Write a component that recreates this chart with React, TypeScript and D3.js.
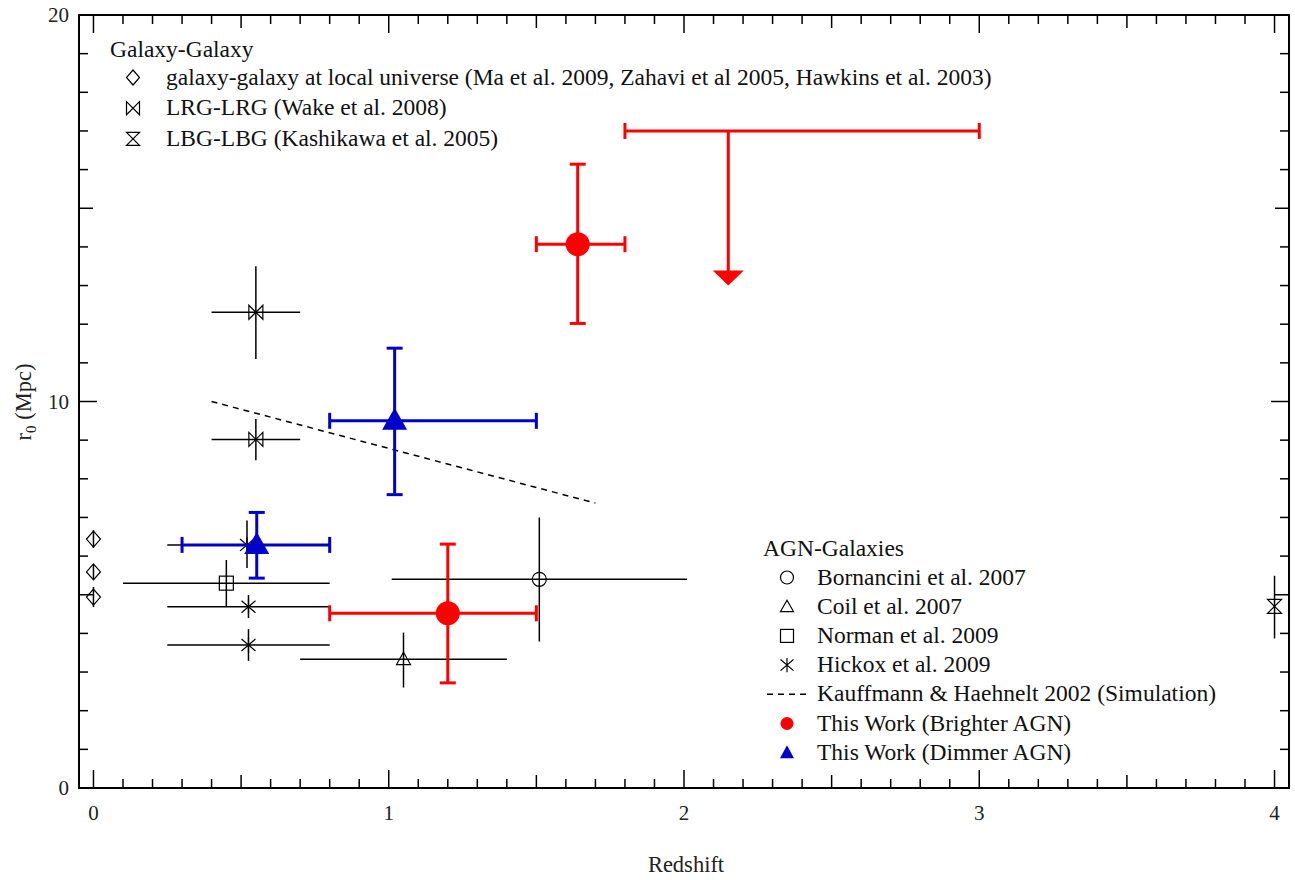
import React from 'react';
import * as d3 from 'd3';

// ---- data (redshift z, r0 in Mpc) ----
const galaxyLocal = [
    { z: 0, r: 6.44, rLo: 6.21, rHi: 6.67 },
    { z: 0, r: 5.59, rLo: 5.41, rHi: 5.77 },
    { z: 0, r: 4.94, rLo: 4.68, rHi: 5.2 },
];
const lrgLrg = [
    { z: 0.55, r: 12.31, zLo: 0.4, zHi: 0.7, rLo: 11.1, rHi: 13.5 },
    { z: 0.55, r: 9.02, zLo: 0.4, zHi: 0.7, rLo: 8.48, rHi: 9.55 },
];
const lbgLbg = [{ z: 4.0, r: 4.7, rLo: 3.87, rHi: 5.49 }];
const bornancini = [{ z: 1.51, r: 5.4, zLo: 1.01, zHi: 2.01, rLo: 3.79, rHi: 7.0 }];
const coil = [{ z: 1.05, r: 3.33, zLo: 0.7, zHi: 1.4, rLo: 2.6, rHi: 4.02 }];
const norman = [{ z: 0.45, r: 5.3, zLo: 0.1, zHi: 0.8, rLo: 4.69, rHi: 5.9 }];
const hickox = [
    { z: 0.525, r: 4.69, zLo: 0.25, zHi: 0.8, rLo: 4.4, rHi: 4.99 },
    { z: 0.525, r: 3.7, zLo: 0.25, zHi: 0.8, rLo: 3.29, rHi: 4.11 },
    { z: 0.52, r: 6.29, zLo: 0.25, zHi: 0.8, rLo: 5.69, rHi: 6.92 },
];
const kauffmann = [
    { z: 0.4, r: 10.0 },
    { z: 1.7, r: 7.37 },
];
const brighter = [
    { z: 1.2, r: 4.52, zLo: 0.8, zHi: 1.5, rLo: 2.72, rHi: 6.31 },
    { z: 1.64, r: 14.07, zLo: 1.5, zHi: 1.8, rLo: 12.02, rHi: 16.14 },
];
const brighterLimit = [{ z: 2.15, r: 17.0, zLo: 1.8, zHi: 3.0, rTo: 13.0 }];
const dimmer = [
    { z: 1.02, r: 9.5, zLo: 0.8, zHi: 1.5, rLo: 7.59, rHi: 11.38 },
    { z: 0.553, r: 6.29, zLo: 0.3, zHi: 0.8, rLo: 5.43, rHi: 7.13 },
];

const xTickLabels = ['0', '1', '2', '3', '4'];
const yTickLabels = ['0', '10', '20'];

const galaxyLegend = [
    { shape: 'diamond', label: 'galaxy-galaxy at local universe (Ma et al. 2009, Zahavi et al 2005, Hawkins et al. 2003)' },
    { shape: 'bowtie', label: 'LRG-LRG (Wake et al. 2008)' },
    { shape: 'hourglass', label: 'LBG-LBG (Kashikawa et al. 2005)' },
];
const agnLegend = [
    { shape: 'circle', label: 'Bornancini et al. 2007' },
    { shape: 'triangle', label: 'Coil et al. 2007' },
    { shape: 'square', label: 'Norman et al. 2009' },
    { shape: 'asterisk', label: 'Hickox et al. 2009' },
    { shape: 'dash', label: 'Kauffmann & Haehnelt 2002 (Simulation)' },
    { shape: 'redDot', label: 'This Work (Brighter AGN)' },
    { shape: 'blueTri', label: 'This Work (Dimmer AGN)' },
];

const W = 1295;
const H = 880;
const left = 79;
const right = 1289;
const top = 15;
const bottom = 788;
const FONT = "'Liberation Serif', 'DejaVu Serif', serif";
const RED = '#ff0000';
const BLUE = '#0000cc';

const x = d3.scaleLinear().domain([-0.049, 4.049]).range([left, right]);
const y = d3.scaleLinear().domain([0, 20]).range([bottom, top]);

// open / filled marker drawn at (cx, cy)
function Marker({ shape, cx, cy, s = 7, legend = false }) {
    const st = { fill: 'none', stroke: '#000', strokeWidth: 1.2 };
    switch (shape) {
        case 'diamond':
            return <path d={`M${cx},${cy - s - 1}L${cx + s},${cy}L${cx},${cy + s + 1}L${cx - s},${cy}Z`} {...st} />;
        case 'bowtie':
            return <path d={`M${cx - s},${cy - s}L${cx - s},${cy + s}L${cx + s},${cy - s}L${cx + s},${cy + s}Z`} {...st} />;
        case 'hourglass':
            return <path d={`M${cx - s},${cy - s}L${cx + s},${cy - s}L${cx - s},${cy + s}L${cx + s},${cy + s}Z`} {...st} />;
        case 'circle':
            return <circle cx={cx} cy={cy} r={s} {...st} />;
        case 'square':
            return <rect x={cx - s} y={cy - s} width={2 * s} height={2 * s} {...st} />;
        case 'triangle':
            return <path d={`M${cx},${cy - s}L${cx + s},${cy + s * 0.75}L${cx - s},${cy + s * 0.75}Z`} {...st} />;
        case 'asterisk': {
            const dx = s;
            return (
                <path
                    d={`M${cx},${cy - s * 1.1}L${cx},${cy + s * 1.1}M${cx - dx},${cy - s * 0.85}L${cx + dx},${cy + s * 0.85}M${cx - dx},${cy + s * 0.85}L${cx + dx},${cy - s * 0.85}`}
                    {...st}
                />
            );
        }
        case 'dash':
            return <line x1={cx - 20} x2={cx + 20} y1={cy} y2={cy} stroke="#000" strokeWidth={1.5} strokeDasharray="6,5" />;
        case 'redDot':
            return <circle cx={cx} cy={cy} r={legend ? 6.5 : 12} fill={RED} />;
        case 'blueTri': {
            const hw = legend ? 7 : 12.5;
            const up = legend ? 7.5 : 13;
            const dn = legend ? 5.5 : 9;
            return <path d={`M${cx},${cy - up}L${cx + hw},${cy + dn}L${cx - hw},${cy + dn}Z`} fill={BLUE} />;
        }
        default:
            return null;
    }
}

// thin black error bars, no caps
function BlackPoints({ data, shape }) {
    return (
        <g>
            {data.map((d, i) => (
                <g key={i}>
                    {d.zLo !== undefined && (
                        <line x1={x(d.zLo)} x2={x(d.zHi)} y1={y(d.r)} y2={y(d.r)} stroke="#000" strokeWidth={1.5} />
                    )}
                    <line x1={x(d.z)} x2={x(d.z)} y1={y(d.rLo)} y2={y(d.rHi)} stroke="#000" strokeWidth={1.5} />
                    <Marker shape={shape} cx={x(d.z)} cy={y(d.r)} />
                </g>
            ))}
        </g>
    );
}

// thick coloured error bars with caps
function ColorPoints({ data, color, shape }) {
    const c = 8;
    return (
        <g stroke={color} strokeWidth={3}>
            {data.map((d, i) => {
                const cx = x(d.z);
                const cy = y(d.r);
                return (
                    <g key={i}>
                        <line x1={x(d.zLo)} x2={x(d.zHi)} y1={cy} y2={cy} />
                        <line x1={x(d.zLo)} x2={x(d.zLo)} y1={cy - c} y2={cy + c} />
                        <line x1={x(d.zHi)} x2={x(d.zHi)} y1={cy - c} y2={cy + c} />
                        <line x1={cx} x2={cx} y1={y(d.rLo)} y2={y(d.rHi)} />
                        <line x1={cx - c} x2={cx + c} y1={y(d.rLo)} y2={y(d.rLo)} />
                        <line x1={cx - c} x2={cx + c} y1={y(d.rHi)} y2={y(d.rHi)} />
                        <g stroke="none">
                            <Marker shape={shape} cx={cx} cy={cy} />
                        </g>
                    </g>
                );
            })}
        </g>
    );
}

export default function App() {
    const xTicks = d3.range(0, 41).map(i => ({ v: i / 10, len: i % 10 === 0 ? 18 : i % 5 === 0 ? 13 : 9 }));
    const yTicks = d3.range(0, 21).map(i => ({ v: i, len: i % 10 === 0 ? 18 : i % 5 === 0 ? 14 : 9 }));
    const dashLine = d3.line().x(d => x(d.z)).y(d => y(d.r));
    const txt = { fontFamily: FONT };

    return (
        <svg
            width={W}
            height={H}
            style={{ position: 'absolute', left: 0, top: 0, background: '#fff', fontFamily: FONT }}
        >
            {/* ticks, pointing inward on all four sides */}
            <g stroke="#000" strokeWidth={1.5}>
                {xTicks.map((t, i) => (
                    <g key={'x' + i}>
                        <line x1={x(t.v)} x2={x(t.v)} y1={bottom} y2={bottom - t.len} />
                        <line x1={x(t.v)} x2={x(t.v)} y1={top} y2={top + t.len} />
                    </g>
                ))}
                {yTicks.map((t, i) => (
                    <g key={'y' + i}>
                        <line x1={left} x2={left + t.len} y1={y(t.v)} y2={y(t.v)} />
                        <line x1={right} x2={right - t.len} y1={y(t.v)} y2={y(t.v)} />
                    </g>
                ))}
            </g>
            <rect x={left} y={top} width={right - left} height={bottom - top} fill="none" stroke="#000" strokeWidth={2} />

            {/* tick labels */}
            <g style={{ ...txt, fontSize: 21 }} fill="#222">
                {xTickLabels.map(l => (
                    <text key={l} x={x(+l)} y={820} textAnchor="middle">
                        {l}
                    </text>
                ))}
                {yTickLabels.map(l => (
                    <text key={l} x={69} y={y(+l) + 7} textAnchor="end">
                        {l}
                    </text>
                ))}
            </g>

            {/* axis titles */}
            <text x={686} y={872} textAnchor="middle" style={{ ...txt, fontSize: 22.5 }} fill="#222">
                Redshift
            </text>
            <text transform="translate(31,402) rotate(-90)" textAnchor="middle" style={{ ...txt, fontSize: 22.5 }} fill="#222">
                r<tspan style={{ fontSize: 15 }} dy={5}>0</tspan>
                <tspan dy={-5}> (Mpc)</tspan>
            </text>

            {/* simulation line */}
            <path d={dashLine(kauffmann)} fill="none" stroke="#000" strokeWidth={1.5} strokeDasharray="6,5" />

            {/* literature points */}
            <BlackPoints data={galaxyLocal} shape="diamond" />
            <BlackPoints data={lrgLrg} shape="bowtie" />
            <BlackPoints data={lbgLbg} shape="hourglass" />
            <BlackPoints data={bornancini} shape="circle" />
            <BlackPoints data={coil} shape="triangle" />
            <BlackPoints data={norman} shape="square" />
            <BlackPoints data={hickox} shape="asterisk" />

            {/* this work */}
            <ColorPoints data={dimmer} color={BLUE} shape="blueTri" />
            <ColorPoints data={brighter} color={RED} shape="redDot" />
            {brighterLimit.map((d, i) => (
                <g key={i} stroke={RED} strokeWidth={3}>
                    <line x1={x(d.zLo)} x2={x(d.zHi)} y1={y(d.r)} y2={y(d.r)} />
                    <line x1={x(d.zLo)} x2={x(d.zLo)} y1={y(d.r) - 8} y2={y(d.r) + 8} />
                    <line x1={x(d.zHi)} x2={x(d.zHi)} y1={y(d.r) - 8} y2={y(d.r) + 8} />
                    <line x1={x(d.z)} x2={x(d.z)} y1={y(d.r)} y2={y(d.rTo) - 12} />
                    <path
                        d={`M${x(d.z) - 15.5},${y(d.rTo) - 15}L${x(d.z) + 15.5},${y(d.rTo) - 15}L${x(d.z)},${y(d.rTo)}Z`}
                        fill={RED}
                        stroke="none"
                    />
                </g>
            ))}

            {/* legends */}
            <g style={{ ...txt, fontSize: 23.5 }} fill="#111">
                <text x={110} y={57}>
                    Galaxy-Galaxy
                </text>
                {galaxyLegend.map((l, i) => (
                    <g key={l.label}>
                        <Marker shape={l.shape} cx={133} cy={77.5 + i * 30.7} s={6.5} legend />
                        <text x={166} y={84.5 + i * 30.7}>
                            {l.label}
                        </text>
                    </g>
                ))}
                <text x={763} y={556}>
                    AGN-Galaxies
                </text>
                {agnLegend.map((l, i) => (
                    <g key={l.label}>
                        <Marker shape={l.shape} cx={787} cy={577.5 + i * 29.2} s={6.5} legend />
                        <text x={817} y={584.5 + i * 29.2}>
                            {l.label}
                        </text>
                    </g>
                ))}
            </g>
        </svg>
    );
}
